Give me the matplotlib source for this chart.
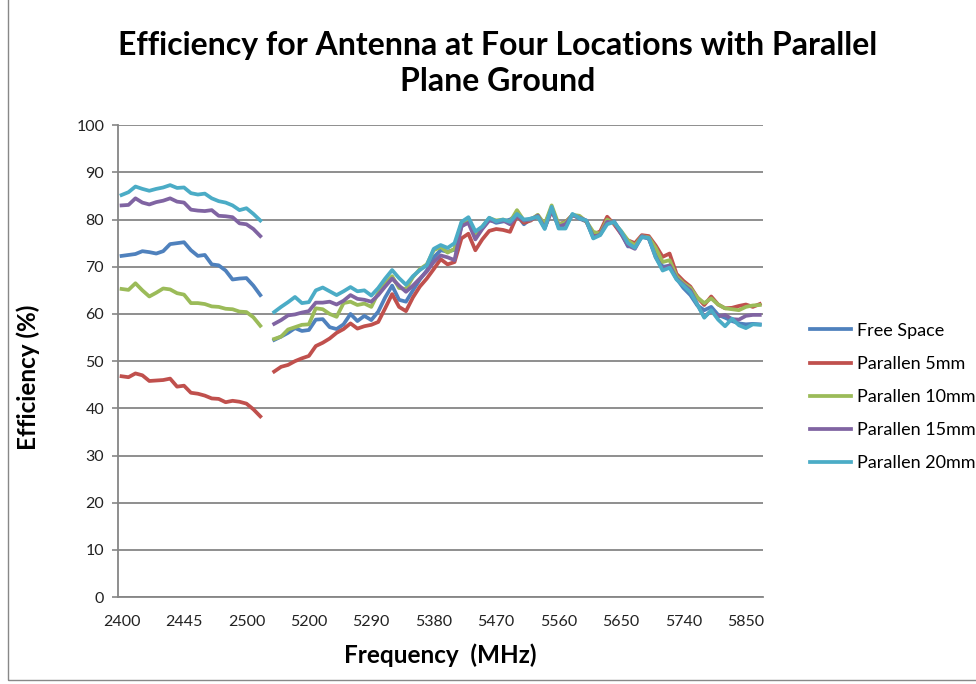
import numpy as np
import matplotlib
matplotlib.use("Agg")
from matplotlib import pyplot as plt
from matplotlib.patches import Rectangle

plt.rcParams['font.family'] = ['Lato', 'DejaVu Sans']

# category labels (MHz); one empty category separates the two bands
freq_low = [2400, 2405, 2410, 2415, 2420, 2425, 2430, 2435, 2440, 2445,
            2450, 2455, 2460, 2465, 2470, 2475, 2480, 2490, 2500, 2510, 2520]
freq_high = [5150 + 10 * k for k in range(60)] + [5750, 5760, 5770, 5780, 5790,
                                                  5800, 5810, 5825, 5850, 5860, 5875]

free_low = [72.3, 72.5, 72.7, 73.3, 73.1, 72.8, 73.3, 74.8, 75.0, 75.2, 73.5,
            72.3, 72.5, 70.5, 70.3, 69.2, 67.3, 67.5, 67.6, 66.0, 64.0]
p5_low = [46.8, 46.6, 47.4, 47.0, 45.8, 45.9, 46.0, 46.3, 44.6, 44.8, 43.3,
          43.1, 42.7, 42.1, 42.0, 41.3, 41.6, 41.4, 41.0, 39.8, 38.3]
p10_low = [65.3, 65.1, 66.5, 65.0, 63.7, 64.5, 65.4, 65.2, 64.4, 64.1, 62.3,
           62.3, 62.1, 61.6, 61.5, 61.1, 61.0, 60.5, 60.4, 59.3, 57.5]
p15_low = [83.0, 83.1, 84.5, 83.6, 83.2, 83.7, 84.0, 84.5, 83.8, 83.6, 82.1,
           81.9, 81.8, 82.0, 80.8, 80.7, 80.5, 79.2, 79.0, 78.0, 76.5]
p20_low = [85.2, 85.8, 87.0, 86.5, 86.1, 86.5, 86.8, 87.3, 86.7, 86.8, 85.6,
           85.3, 85.5, 84.5, 83.9, 83.6, 83.0, 82.0, 82.4, 81.2, 79.8]

free_high = [54.5, 55.2, 56.0, 57.0, 56.4, 56.6, 58.8, 58.9, 57.2, 56.8,
             57.8, 60.0, 58.5, 59.6, 58.7, 60.5, 63.5, 66.0, 63.0, 62.6,
             65.0, 67.3, 69.2, 72.0, 73.5, 73.2, 73.6, 78.5, 79.8, 76.8,
             78.2, 80.0, 79.3, 79.6, 80.0, 81.0, 79.0, 80.2, 80.6, 79.0,
             82.3, 78.6, 79.0, 81.0, 80.2, 79.6, 76.2, 76.9, 79.6, 79.6,
             77.2, 74.3, 74.6, 76.3, 76.0, 72.5, 70.0, 70.2, 67.5, 65.5,
             64.0, 61.8, 60.8, 61.5, 59.8, 59.2, 58.5, 58.0, 57.8, 57.9, 57.8]
p5_high = [47.8, 48.8, 49.2, 50.0, 50.6, 51.1, 53.2, 53.9, 54.8, 56.0,
           56.8, 58.0, 56.9, 57.4, 57.7, 58.3, 61.2, 64.2, 61.5, 60.6,
           63.5, 65.8, 67.5, 69.5, 71.6, 70.5, 71.0, 76.0, 77.0, 73.5,
           75.8, 77.6, 78.0, 77.8, 77.4, 80.8, 79.3, 79.8, 80.9, 78.4,
           81.8, 79.0, 79.5, 80.9, 80.5, 79.6, 76.8, 77.5, 80.6, 79.0,
           77.0, 75.6, 75.0, 76.7, 76.5, 74.5, 72.1, 72.8, 68.5, 67.0,
           65.8, 63.5, 61.9, 63.7, 62.0, 61.2, 61.3, 61.7, 62.0, 61.5, 62.1]
p10_high = [54.7, 55.2, 56.7, 57.2, 57.7, 57.8, 61.2, 61.0, 60.0, 59.4,
            62.3, 62.6, 61.9, 62.2, 61.5, 64.5, 66.5, 68.0, 65.5, 65.3,
            67.8, 69.5, 70.5, 73.5, 74.2, 73.0, 73.8, 79.3, 80.0, 77.0,
            78.5, 80.3, 79.8, 80.0, 79.5, 82.0, 79.8, 80.0, 81.0, 79.0,
            83.0, 79.0, 79.4, 81.0, 80.8, 79.6, 77.4, 77.0, 80.0, 79.2,
            77.6, 75.6, 74.5, 76.5, 76.2, 74.0, 71.0, 71.4, 68.0, 66.5,
            65.5, 63.5, 62.3, 63.3, 62.0, 61.2, 61.0, 60.8, 61.5, 61.8, 61.9]
p15_high = [57.9, 58.7, 59.7, 59.9, 60.3, 60.6, 62.4, 62.4, 62.6, 62.0,
            62.8, 64.0, 63.2, 63.0, 62.6, 64.0, 65.8, 67.5, 66.0, 64.7,
            66.0, 67.5, 69.0, 71.0, 72.4, 72.0, 71.4, 78.6, 79.3, 75.8,
            78.0, 79.8, 79.6, 79.8, 79.0, 80.8, 79.8, 80.0, 80.8, 78.2,
            82.0, 78.5, 79.0, 81.0, 80.4, 79.8, 76.3, 76.8, 79.5, 79.4,
            77.0, 74.5, 73.8, 76.5, 76.0, 72.0, 69.6, 70.3, 67.5, 66.2,
            65.0, 62.0, 59.4, 60.6, 59.5, 59.8, 58.9, 58.8, 59.6, 59.8, 59.8]
p20_high = [60.4, 61.5, 62.5, 63.6, 62.3, 62.5, 65.0, 65.6, 64.8, 64.0,
            64.8, 65.7, 64.8, 65.0, 63.9, 65.5, 67.5, 69.3, 67.6, 66.2,
            68.0, 69.3, 70.3, 73.8, 74.6, 74.0, 75.0, 79.5, 80.5, 77.5,
            78.5, 80.4, 79.6, 80.0, 79.5, 81.2, 80.0, 80.2, 80.6, 78.0,
            82.7, 78.1, 78.1, 81.2, 80.3, 79.8, 76.0, 76.7, 79.0, 79.5,
            77.5, 75.0, 74.0, 76.3, 76.1, 72.0, 69.2, 69.8, 67.3, 66.0,
            64.6, 62.0, 59.2, 60.8, 58.8, 57.4, 59.0, 57.6, 57.0, 57.8, 57.7]

labels = ["Free Space", "Parallen 5mm", "Parallen 10mm", "Parallen 15mm", "Parallen 20mm"]
colors = ["#4F81BD", "#C0504D", "#9BBB59", "#8064A2", "#4BACC6"]

categories = [str(f) for f in freq_low] + [""] + [str(f) for f in freq_high]
x = np.arange(len(categories))

fig = plt.figure(figsize=(9.76, 6.84), dpi=100)
ax = fig.add_axes([0.121, 0.127, 0.661, 0.690])

series = [(free_low, free_high), (p5_low, p5_high), (p10_low, p10_high),
          (p15_low, p15_high), (p20_low, p20_high)]
for (lo, hi), label, color in zip(series, labels, colors):
    y = np.array(lo + [np.nan] + hi, dtype=float)
    ax.plot(x, y, color=color, linewidth=2.7, label=label, solid_joinstyle='round')

ax.set_xlim(-0.5, len(categories) - 0.5)
ax.set_ylim(0, 100)
ax.set_yticks(range(0, 101, 10))
ax.set_xticks(x[::9])
ax.set_xticklabels(categories[::9])
ax.tick_params(axis='x', length=0, pad=13, labelsize=11.5, colors='#222222')
ax.tick_params(axis='y', length=4, width=1.2, color='#868686', pad=6,
               labelsize=11.5, labelcolor='#222222')
ax.grid(axis='y', color='#868686', linewidth=1.3)
ax.set_axisbelow(True)
for side in ['top', 'right']:
    ax.spines[side].set_visible(False)
for side in ['left', 'bottom']:
    ax.spines[side].set_color('#868686')
    ax.spines[side].set_linewidth(1.3)

fig.text(0.029, 0.449, "Efficiency (%)", rotation=90, ha='center', va='center',
         fontsize=17.5, fontweight='bold')
fig.text(0.451, 0.042, "Frequency  (MHz)", ha='center', va='center',
         fontsize=17.5, fontweight='bold')

fig.text(0.51, 0.907, "Efficiency for Antenna at Four Locations with Parallel\nPlane Ground",
         ha='center', va='center', fontsize=23, fontweight='bold', linespacing=1.3)

ax.legend(loc='center left', bbox_to_anchor=(1.072, 0.424), frameon=False,
          borderpad=0, borderaxespad=0, fontsize=13, handlelength=2.3,
          labelspacing=0.95, handletextpad=0.3)

fig.patches.append(Rectangle((0.008, 0.006), 1.2, 1.2, transform=fig.transFigure,
                             fill=False, edgecolor='#888888', linewidth=1))

fig.savefig("out.png", dpi=100)
